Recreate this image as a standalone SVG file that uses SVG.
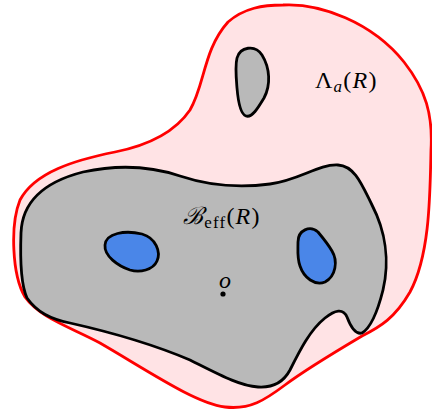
<svg xmlns="http://www.w3.org/2000/svg" width="432" height="412" viewBox="0 0 432 412">
<style>
.region{fill:#ffe3e5;stroke:#ff0000;stroke-width:2.8;stroke-linejoin:round}
.gray{fill:#b9b9b9;stroke:#000;stroke-width:2.8;stroke-linejoin:round}
.hole{fill:#4a86e8;stroke:#000;stroke-width:2.8}
.lbl{font-family:"Liberation Serif","DejaVu Serif",serif;font-size:24px;fill:#000;letter-spacing:1.2px}
</style>
<rect width="432" height="412" fill="#fff"/>
<g id="lambda">
<path class="region" d="M283 5 C320 3,372 22,404 62 C426 90,433 115,431 150 C430 195,430 255,410 292 C395 318,380 327,362 336 C335 352,305 370,285 385 C265 400,250 410,225 407 C195 403,150 372,100 343 C70 327,40 318,25 297 C12 275,10 225,20 200 C35 172,75 160,115 152 C150 145,175 132,190 110 C205 85,203 50,228 22 C244 8,263 5,283 5 Z"/>
</g>
<g id="beff">
<path class="gray" d="M21 233 C22 205,40 183,83 172 C120 164,150 166,180 176 C210 186,240 188,270 184 C300 180,318 164,338 165 C355 166,362 185,372 205 C385 230,390 260,383 290 C378 310,372 327,362 333 C355 335,350 325,347 317 C343 308,335 310,325 318 C310 330,300 350,290 370 C283 383,273 388,258 387 C240 386,220 375,190 360 C150 343,110 332,70 323 C50 319,37 312,27 298 C21 285,20 260,21 233 Z"/>
</g>
<g id="island">
<path class="gray" d="M237 58 C240 47,255 44,262 55 C270 68,271 85,264 98 C258 108,252 118,246 116 C240 114,238 100,237 88 C236 76,235 66,237 58 Z"/>
</g>
<g id="hole-left">
<path class="hole" d="M105 245 C106 233,125 230,142 234 C156 238,161 252,157 261 C153 270,140 273,130 270 C118 266,104 256,105 245 Z"/>
</g>
<g id="hole-right">
<path class="hole" d="M298 242 C298 230,310 225,318 232 C323 238,328 244,332 251 C338 261,336 276,325 282 C315 286,304 278,300 266 C297 258,298 250,298 242 Z"/>
</g>
<g id="origin">
<circle cx="223" cy="294" r="2.6" fill="#000"/>
<text class="lbl" x="219" y="288" font-style="italic" font-size="26">o</text>
</g>
<g id="labels">
<text class="lbl" x="315" y="88">Λ<tspan font-style="italic" font-size="17" dy="4">a</tspan><tspan dy="-4">(</tspan><tspan font-style="italic">R</tspan>)</text>
<text class="lbl" x="183" y="224"><tspan font-family="DejaVu Serif,serif" font-style="italic">ℬ</tspan><tspan font-size="17" dy="4">eff</tspan><tspan dy="-4">(</tspan><tspan font-style="italic">R</tspan>)</text>
</g>
<g id="connectors"></g>
</svg>
